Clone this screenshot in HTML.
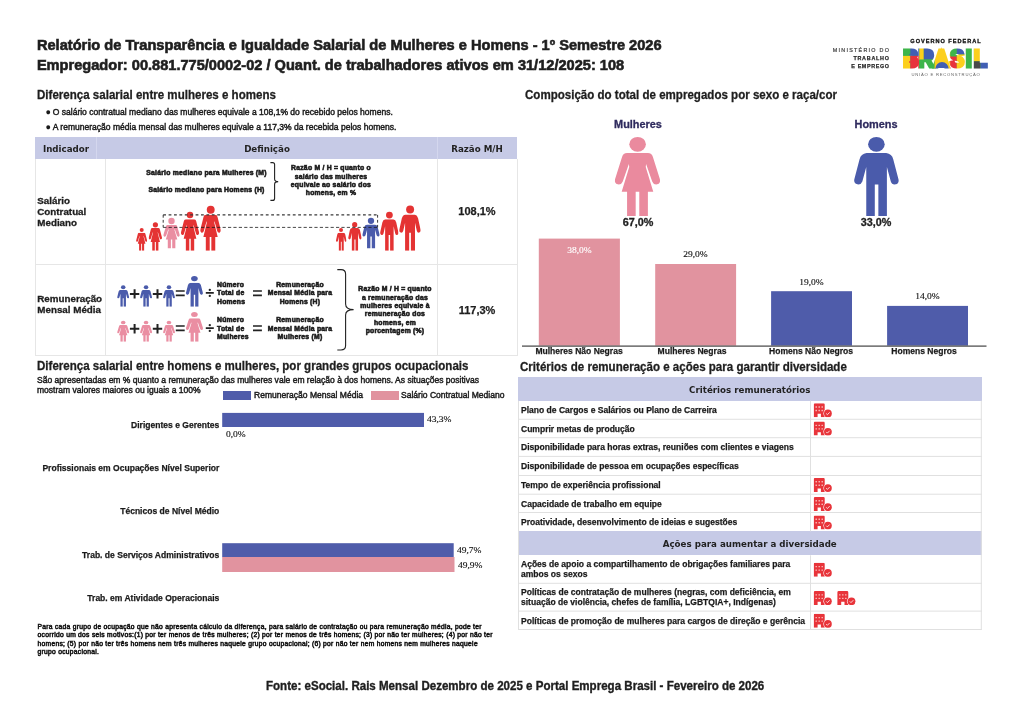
<!DOCTYPE html>
<html lang="pt-BR">
<head>
<meta charset="utf-8">
<title>Relatório de Transparência e Igualdade Salarial</title>
<style>
html,body{margin:0;padding:0;background:#fff;}
body{width:1024px;height:724px;position:relative;overflow:hidden;font-family:"Liberation Sans",sans-serif;color:#222;}
.a{position:absolute;white-space:nowrap;line-height:1;margin:0;padding:0;}
.b{font-weight:700;}
.s{-webkit-text-stroke:0.6px #222;}
.h{font-size:12.2px;font-weight:700;color:#1e1e1e;-webkit-text-stroke:0.28px #1e1e1e;transform:scaleX(0.948);transform-origin:0 0;}
.c{text-align:center;}
.box{position:absolute;}
.hdr{background:#c6cae6;}
.tiny{font-size:6.8px;font-weight:700;color:#1c1c1c;-webkit-text-stroke:0.58px #1c1c1c;letter-spacing:0.24px;line-height:8.4px;text-align:center;white-space:nowrap;position:absolute;}
.ln{position:absolute;background:#e6e6e6;}
.num{font-family:"Liberation Serif","DejaVu Serif",serif;font-size:8.2px;color:#111;-webkit-text-stroke:0.12px #111;transform:scaleX(1.16);transform-origin:0 0;}
svg{position:absolute;overflow:visible;}
.sm{font-size:9px;color:#1a1a1a;-webkit-text-stroke:0.45px #1a1a1a;transform:scaleX(0.948);transform-origin:0 0;}
.bu{font-size:9.5px;display:inline-block;width:7.7px;vertical-align:-0.2px;letter-spacing:0;margin-left:-0.6px;-webkit-text-stroke-width:0;}
.xl{font-size:9px;font-weight:700;color:#1a1a1a;-webkit-text-stroke:0.25px #1a1a1a;transform:scaleX(0.948);transform-origin:50% 0;}
.cat{left:20px;width:199.3px;text-align:right;font-size:9px;font-weight:700;color:#1a1a1a;-webkit-text-stroke:0.25px #1a1a1a;transform:scaleX(0.948);transform-origin:100% 0;}
.fn{font-size:6.7px;line-height:8.35px;color:#111;-webkit-text-stroke:0.5px #111;letter-spacing:0.28px;}
.lb{font-size:9.8px;line-height:11.1px;color:#1e1e1e;white-space:normal;width:70px;-webkit-text-stroke:0.3px #1e1e1e;transform:translateY(0.01px);}
.rt{font-size:9px;font-weight:700;color:#1a1a1a;-webkit-text-stroke:0.25px #1a1a1a;transform:scaleX(0.948);transform-origin:0 0;}
.lg{font-size:5.4px;text-align:right;}
.th{font-family:'DejaVu Sans','Liberation Sans',sans-serif;font-size:9.5px;color:#222;transform:scaleX(0.915);}
</style>
</head>
<body>
<svg width="0" height="0" style="position:absolute">
<defs>
<symbol id="w" viewBox="192 240 254 350" preserveAspectRatio="none">
<path d="M262,240 L378,240 Q400,240 406,262 L445,385 Q450,408 430,414 Q410,418 402,398 L368,300 L366,318 L408,455 L378,455 L378,590 L330,590 L330,455 L310,455 L310,590 L262,590 L262,455 L232,455 L274,318 L272,300 L238,398 Q230,418 210,414 Q190,408 195,385 L234,262 Q240,240 262,240 Z"/>
</symbol>
<symbol id="m" viewBox="298 240 254 350" preserveAspectRatio="none">
<path d="M370,240 L480,240 Q512,245 520,275 L549,385 Q554,408 534,414 Q512,418 506,398 L484,318 L484,590 L436,590 L436,415 L416,415 L416,590 L368,590 L368,318 L346,398 Q338,418 318,414 Q296,408 301,385 L330,275 Q338,245 370,240 Z"/>
</symbol>
<symbol id="bc" viewBox="0 0 19 14">
<path d="M0.3,1.3 Q0.3,0 1.6,0 H9.9 Q11.2,0 11.2,1.3 V14 H7.4 V10.6 H4.1 V14 H0.3 Z" fill="#e8343a"/>
<g fill="#ffe9e4" opacity="0.8"><rect x="2" y="3.1" width="1.4" height="1.4" rx="0.3"/><rect x="5" y="3.1" width="1.4" height="1.4" rx="0.3"/><rect x="8" y="3.1" width="1.4" height="1.4" rx="0.3"/><rect x="2" y="6.6" width="1.4" height="1.4" rx="0.3"/><rect x="5" y="6.6" width="1.4" height="1.4" rx="0.3"/><rect x="8" y="6.6" width="1.4" height="1.4" rx="0.3"/></g>
<circle cx="14.4" cy="10.2" r="4.5" fill="#fff"/>
<circle cx="14.4" cy="10.2" r="3.9" fill="#e8343a"/>
<path d="M12.7,10.3 L13.9,11.5 L16.2,9.1" fill="none" stroke="#fff" stroke-width="0.8"/>
</symbol>
<pattern id="bp" patternUnits="userSpaceOnUse" x="0" y="0" width="1024" height="724" patternTransform="translate(903 0) scale(1.1111 1) translate(-903 0)">
<rect x="895" y="40" width="100" height="35" fill="#3db54a"/>
<rect x="895" y="44" width="15.3" height="11.9" fill="#3db54a"/>
<rect x="895" y="55.9" width="15.3" height="16" fill="#fccf1d"/>
<rect x="910.3" y="44" width="9" height="11.9" fill="#415fb4"/>
<rect x="910.3" y="55.9" width="9" height="16" fill="#e8333c"/>
<rect x="919.3" y="44" width="4.5" height="16" fill="#fccf1d"/>
<rect x="923.8" y="44" width="11" height="15.5" fill="#415fb4"/>
<rect x="919.3" y="59.5" width="15.5" height="12" fill="#3db54a"/>
<rect x="934.6" y="44" width="16.4" height="30" fill="#fccf1d"/>
<circle cx="942" cy="68.6" r="6.6" fill="#415fb4"/>
<rect x="950.2" y="44" width="6.6" height="12.5" fill="#3db54a"/>
<rect x="956.8" y="44" width="9" height="10.5" fill="#415fb4"/>
<rect x="950.2" y="56.5" width="6.6" height="16" fill="#e8333c"/>
<rect x="956.8" y="54.5" width="9" height="18" fill="#fccf1d"/>
<rect x="965.5" y="44" width="8" height="30" fill="#3db54a"/>
<rect x="973.5" y="44" width="8" height="17.3" fill="#fccf1d"/>
<rect x="973.5" y="61.3" width="7" height="11" fill="#4a4a4a"/>
<rect x="980.5" y="61.3" width="15" height="11" fill="#415fb4"/>
</pattern>
</defs>
</svg>

<!-- HEADER -->
<div class="a b s" style="left:36.9px;top:37px;font-size:14.63px;color:#1e1e1e;transform:translateY(0.6px);">Relatório de Transparência e Igualdade Salarial de Mulheres e Homens - 1º Semestre 2026</div>
<div class="a b s" style="left:36.9px;top:57px;font-size:14.6px;color:#1e1e1e;transform:translateY(0.6px);">Empregador: 00.881.775/0002-02 / Quant. de trabalhadores ativos em 31/12/2025: 108</div>

<!--LOGO-->
<div class="a lg" style="left:780px;width:110.2px;top:48.1px;color:#444;letter-spacing:1.26px;-webkit-text-stroke:0.2px #444;">MINISTÉRIO DO</div>
<div class="a lg b" style="left:780px;width:109.7px;top:56.2px;color:#2a2a2a;letter-spacing:0.75px;-webkit-text-stroke:0.25px #2a2a2a;">TRABALHO</div>
<div class="a lg b" style="left:780px;width:109.7px;top:64px;color:#2a2a2a;letter-spacing:0.64px;-webkit-text-stroke:0.25px #2a2a2a;">E EMPREGO</div>
<div class="a lg b" style="left:905px;width:82px;top:38.9px;color:#111;letter-spacing:0.98px;text-align:center;font-size:5.6px;-webkit-text-stroke:0.3px #111;">GOVERNO FEDERAL</div>
<div class="a lg" style="left:905px;width:82px;top:73.1px;color:#666;letter-spacing:0.75px;text-align:center;font-size:4.2px;">UNIÃO E RECONSTRUÇÃO</div>
<svg style="left:0;top:0;" width="1024" height="724" viewBox="0 0 1024 724">
<rect x="906" y="50" width="9" height="5.9" fill="#415fb4"/><rect x="906" y="55.9" width="9" height="9.5" fill="#e8333c"/><rect x="922.5" y="50" width="8.5" height="8" fill="#415fb4"/><rect x="938.5" y="53" width="5.5" height="8" fill="#fccf1d"/><path d="M935.6,68.1 A6.4,6.4 0 0 1 948.4,68.1 Z" fill="#415fb4"/>
<g transform="translate(903 0) scale(0.9 1)"><g transform="translate(-903 0)">
<text x="903 920 936.8 954.9 972.6 981.7" y="66.9" font-family="Liberation Sans, sans-serif" font-weight="700" font-size="24.2" fill="url(#bp)" stroke="url(#bp)" stroke-width="3.2" stroke-linejoin="miter" style="paint-order:stroke;">BRASIL</text>
</g></g>
</svg>

<!--LEFT-TOP-->
<div class="a h" style="left:36.6px;top:89.3px;">Diferença salarial entre mulheres e homens</div>
<div class="a s sm" style="left:45.8px;top:107px;"><span class="bu">●</span>O salário contratual mediano das mulheres equivale a 108,1% do recebido pelos homens.</div>
<div class="a s sm" style="left:45.8px;top:122px;"><span class="bu">●</span>A remuneração média mensal das mulheres equivale a 117,3% da recebida pelos homens.</div>

<!-- table 1 -->
<div class="box hdr" style="left:35px;top:137px;width:482px;height:22px;"></div>
<div class="box" style="left:96px;top:137px;width:1px;height:22px;background:#d4d7ee;"></div>
<div class="box" style="left:437px;top:137px;width:1px;height:22px;background:#d4d7ee;"></div>
<div class="a b c" style="left:35px;width:62px;top:144.1px;font-family:'DejaVu Sans','Liberation Sans',sans-serif;font-size:9.5px;color:#222;transform:scaleX(0.915);">Indicador</div>
<div class="a b c" style="left:97px;width:340px;top:144.1px;font-family:'DejaVu Sans','Liberation Sans',sans-serif;font-size:9.5px;color:#222;transform:scaleX(0.915);">Definição</div>
<div class="a b c" style="left:437px;width:80px;top:144.1px;font-family:'DejaVu Sans','Liberation Sans',sans-serif;font-size:9.5px;color:#222;transform:scaleX(0.915);">Razão M/H</div>
<div class="ln" style="left:35px;top:159px;width:1px;height:197px;"></div>
<div class="ln" style="left:105px;top:159px;width:1px;height:197px;"></div>
<div class="ln" style="left:437px;top:159px;width:1px;height:197px;"></div>
<div class="ln" style="left:517px;top:159px;width:1px;height:197px;"></div>
<div class="ln" style="left:35px;top:264px;width:483px;height:1px;"></div>
<div class="ln" style="left:35px;top:355px;width:483px;height:1px;"></div>

<div class="a b lb" style="left:37.3px;top:194.5px;">Salário Contratual Mediano</div>
<div class="a b lb" style="left:37.3px;top:293.3px;">Remuneração Mensal Média</div>
<div class="a b c" style="left:437px;width:80px;top:206px;font-size:11px;color:#1e1e1e;-webkit-text-stroke:0.25px #1e1e1e;">108,1%</div>
<div class="a b c" style="left:437px;width:80px;top:305px;font-size:11px;color:#1e1e1e;-webkit-text-stroke:0.25px #1e1e1e;">117,3%</div>

<!-- row 1 illustration -->
<div class="tiny" style="left:140px;width:133px;top:169.4px;">Salário mediano para Mulheres (M)</div>
<div class="tiny" style="left:140px;width:133px;top:186.4px;">Salário mediano para Homens (H)</div>
<div class="tiny" style="left:281px;width:100px;top:163.6px;">Razão M / H = quanto o</div>
<div class="tiny" style="left:281px;width:100px;top:172.6px;">salário das mulheres</div>
<div class="tiny" style="left:281px;width:100px;top:181.0px;">equivale ao salário dos</div>
<div class="tiny" style="left:281px;width:100px;top:188.65px;">homens, em %</div>

<svg style="left:0;top:0;" width="1024" height="724" viewBox="0 0 1024 724">
<path d="M270.4,162.6 H272.6 Q274.6,162.6 274.6,164.6 V179 Q274.6,181.6 278.2,181.6 Q274.6,181.6 274.6,184.2 V198.4 Q274.6,200.4 272.6,200.4 H270.4" fill="none" stroke="#222" stroke-width="1.1"/>
<g fill="#e43333">
<circle cx="141.7" cy="230" r="2.0"/><use href="#w" x="136.05" y="232.7" width="11.05" height="18.10"/>
<circle cx="155.4" cy="224.8" r="2.6"/><use href="#w" x="148.55" y="228" width="13.45" height="22.80"/>
<circle cx="190" cy="215.1" r="3.25"/><use href="#w" x="180.8" y="219.3" width="18.30" height="31.50"/>
<circle cx="210.7" cy="209.8" r="3.95"/><use href="#w" x="200.1" y="214.8" width="20.70" height="36.00"/>
<circle cx="341" cy="229.9" r="2.0"/><use href="#m" x="335.9" y="232.7" width="10.70" height="18.10"/>
<circle cx="354.7" cy="224.7" r="2.6"/><use href="#m" x="348.1" y="228" width="13.60" height="22.80"/>
<circle cx="389.4" cy="215.1" r="3.4"/><use href="#m" x="380" y="219.3" width="18.60" height="31.50"/>
<circle cx="410.1" cy="209.5" r="4.0"/><use href="#m" x="399.1" y="214.6" width="21.70" height="36.20"/>
</g>
<circle cx="171.5" cy="221" r="3.2" fill="#ea8ea2"/><use href="#w" x="163.2" y="224.9" width="16.60" height="23.60" fill="#ea8ea2"/>
<circle cx="371" cy="220.8" r="3.15" fill="#4a5bab"/><use href="#m" x="362.2" y="224.4" width="17.60" height="24.10" fill="#4a5bab"/>
<path d="M163.2,214.9 H377.6" fill="none" stroke="#3a3a3a" stroke-width="1.4" stroke-dasharray="2.8 2.6"/>
<path d="M163.2,214.9 V227.4 M377.6,214.9 V227.4" fill="none" stroke="#222" stroke-width="0.9" stroke-dasharray="2.8 2.2"/>
<path d="M163.2,227.4 H377.6" fill="none" stroke="#1a1a1a" stroke-width="0.8" stroke-dasharray="3.2 2.2"/>
<!-- row 2 -->
<g fill="#4a5bab">
<ellipse cx="123.2" cy="287.2" rx="2.25" ry="1.95"/><use href="#m" x="117.1" y="289.9" width="12.10" height="16.95"/>
<ellipse cx="146.05" cy="287.2" rx="2.25" ry="1.95"/><use href="#m" x="140" y="289.9" width="12.10" height="16.95"/>
<ellipse cx="168.95" cy="287.2" rx="2.25" ry="1.95"/><use href="#m" x="163" y="289.9" width="12.00" height="16.95"/>
<ellipse cx="194.4" cy="278.6" rx="3.3" ry="2.65"/><use href="#m" x="185.8" y="282.7" width="17.25" height="24.15"/>
</g>
<g fill="#ea8ea2">
<ellipse cx="123.2" cy="322.5" rx="2.25" ry="1.85"/><use href="#w" x="117.1" y="325" width="12.10" height="16.70"/>
<ellipse cx="146.05" cy="322.5" rx="2.25" ry="1.85"/><use href="#w" x="140" y="325" width="12.10" height="16.70"/>
<ellipse cx="168.95" cy="322.5" rx="2.25" ry="1.85"/><use href="#w" x="163" y="325" width="12.00" height="16.70"/>
<ellipse cx="194.4" cy="314.4" rx="3.3" ry="2.5"/><use href="#w" x="185.8" y="318.3" width="17.25" height="23.40"/>
</g>
<g stroke="#222" fill="none">
<path d="M129.9,293.9h9.4M134.6,289.2v9.4 M152.8,293.9h9.4M157.5,289.2v9.4" stroke-width="2"/>
<path d="M129.9,328.8h9.4M134.6,324.1v9.4 M152.8,328.8h9.4M157.5,324.1v9.4" stroke-width="2"/>
<path d="M175.8,291h8.9M175.8,295.3h8.9 M175.8,326h8.9M175.8,330.3h8.9 M253,291h8.9M253,295.3h8.9 M253,326h8.9M253,330.3h8.9" stroke-width="1.7"/>
<path d="M205.8,292.9h8 M205.8,328.1h8" stroke-width="1.9"/>
<path d="M337.3,269.6 H341 Q345.6,269.6 345.6,274 V304 Q345.6,309.6 353.6,309.6 Q345.6,309.6 345.6,315 V345.6 Q345.6,350 341,350 H337.3" stroke-width="1.1"/>
</g>
<g fill="#222"><circle cx="209.8" cy="289.9" r="1.15"/><circle cx="209.8" cy="295.9" r="1.15"/><circle cx="209.8" cy="325.2" r="1.15"/><circle cx="209.8" cy="330.9" r="1.15"/></g>
</svg>
<div class="tiny" style="left:217px;top:280.5px;text-align:left;line-height:8.5px;">Número<br>Total de<br>Homens</div>
<div class="tiny" style="left:217px;top:316.3px;text-align:left;line-height:8.5px;">Número<br>Total de<br>Mulheres</div>
<div class="tiny" style="left:260px;width:80px;top:280.5px;line-height:8.5px;">Remuneração<br>Mensal Média para<br>Homens (H)</div>
<div class="tiny" style="left:260px;width:80px;top:316.3px;line-height:8.5px;">Remuneração<br>Mensal Média para<br>Mulheres (M)</div>
<div class="tiny" style="left:350px;width:90px;top:285.2px;">Razão M / H = quanto</div>
<div class="tiny" style="left:350px;width:90px;top:293.7px;">a remuneração das</div>
<div class="tiny" style="left:350px;width:90px;top:302.0px;">mulheres equivale à</div>
<div class="tiny" style="left:350px;width:90px;top:309.65px;">remuneração dos</div>
<div class="tiny" style="left:350px;width:90px;top:319.0px;">homens, em</div>
<div class="tiny" style="left:350px;width:90px;top:326.55px;">porcentagem (%)</div>


<!--RIGHT-TOP-->
<div class="a h" style="left:525.2px;top:89.3px;">Composição do total de empregados por sexo e raça/cor</div>
<div class="a b s c" style="left:598px;width:80px;top:118.8px;font-size:10.9px;color:#2f2b5e;-webkit-text-stroke:0.3px #2f2b5e;">Mulheres</div>
<div class="a b s c" style="left:836px;width:80px;top:118.8px;font-size:10.9px;color:#2f2b5e;-webkit-text-stroke:0.3px #2f2b5e;">Homens</div>
<svg style="left:0;top:0;" width="1024" height="724" viewBox="0 0 1024 724">
<ellipse cx="637.6" cy="144.3" rx="8.3" ry="7.4" fill="#ea8a9e"/><use href="#w" x="614.5" y="153.1" width="45.6" height="62.9" fill="#ea8a9e"/>
<ellipse cx="876.4" cy="144.3" rx="8.3" ry="7.4" fill="#4a5bab"/><use href="#m" x="853.8" y="153.1" width="45.2" height="62.9" fill="#4a5bab"/>
<rect x="538.8" y="238.6" width="81.1" height="107" fill="#e1939f"/>
<rect x="655.2" y="264" width="80.9" height="81.6" fill="#e1939f"/>
<rect x="771.1" y="291.2" width="80.9" height="54.4" fill="#4f5caa"/>
<rect x="887.1" y="305.9" width="80.9" height="39.7" fill="#4f5caa"/>
<rect x="522" y="345.5" width="464.5" height="1.2" fill="#444"/>
</svg>
<div class="a b s c" style="left:598px;width:80px;top:217.2px;font-size:10.8px;color:#1e1e1e;-webkit-text-stroke-width:0.3px;">67,0%</div>
<div class="a b s c" style="left:836px;width:80px;top:217.2px;font-size:10.8px;color:#1e1e1e;-webkit-text-stroke-width:0.3px;">33,0%</div>
<div class="a num c" style="left:539px;width:81px;top:247.1px;color:#fff;-webkit-text-stroke-color:#fff;transform-origin:50% 0;">38,0%</div>
<div class="a num c" style="left:654.8px;width:81px;top:250.95px;transform-origin:50% 0;">29,0%</div>
<div class="a num c" style="left:771.2px;width:81px;top:279.2px;transform-origin:50% 0;">19,0%</div>
<div class="a num c" style="left:887px;width:81px;top:293.2px;transform-origin:50% 0;">14,0%</div>
<div class="a c xl" style="left:529.2px;width:100px;top:346.5px;">Mulheres Não Negras</div>
<div class="a c xl" style="left:642px;width:100px;top:346.5px;">Mulheres Negras</div>
<div class="a c xl" style="left:761.4px;width:100px;top:346.5px;">Homens Não Negros</div>
<div class="a c xl" style="left:873.8px;width:100px;top:346.5px;">Homens Negros</div>

<!--LEFT-BOTTOM-->
<div class="a h" style="left:36.6px;top:360.3px;">Diferença salarial entre homens e mulheres, por grandes grupos ocupacionais</div>
<div class="a s sm" style="left:37px;top:375.5px;">São apresentadas em % quanto a remuneração das mulheres vale em relação à dos homens. As situações positivas</div>
<div class="a s sm" style="left:37px;top:385.5px;">mostram valores maiores ou iguais a 100%</div>
<div class="box" style="left:223px;top:391px;width:28px;height:9px;background:#4f5caa;"></div>
<div class="a s sm" style="left:253.5px;top:391px;">Remuneração Mensal Média</div>
<div class="box" style="left:371px;top:391px;width:28px;height:9px;background:#e1939f;"></div>
<div class="a s sm" style="left:401px;top:391px;">Salário Contratual Mediano</div>

<svg style="left:0;top:0;" width="1024" height="724" viewBox="0 0 1024 724">
<rect x="222.2" y="412.9" width="201.8" height="14.1" fill="#4f5caa"/>
<rect x="222.2" y="543.2" width="231.5" height="14" fill="#4f5caa"/>
<rect x="222.2" y="557" width="232.3" height="15" fill="#e1939f"/>
</svg>
<div class="a num" style="left:427px;top:416.25px;">43,3%</div>
<div class="a num" style="left:225.5px;top:430.75px;">0,0%</div>
<div class="a num" style="left:457px;top:547.25px;">49,7%</div>
<div class="a num" style="left:458px;top:561.95px;">49,9%</div>
<div class="a cat" style="top:420.8px;">Dirigentes e Gerentes</div>
<div class="a cat" style="top:463.8px;">Profissionais em Ocupações Nível Superior</div>
<div class="a cat" style="top:507.3px;">Técnicos de Nível Médio</div>
<div class="a cat" style="top:551.3px;">Trab. de Serviços Administrativos</div>
<div class="a cat" style="top:594.3px;">Trab. em Atividade Operacionais</div>
<div class="a fn" style="left:37.6px;top:622.6px;">Para cada grupo de ocupação que não apresenta cálculo da diferença, para salário de contratação ou para remuneração média, pode ter</div>
<div class="a fn" style="left:37.6px;top:630.8px;">ocorrido um dos seis motivos:(1) por ter menos de três mulheres; (2) por ter menos de três homens; (3) por não ter mulheres; (4) por não ter</div>
<div class="a fn" style="left:37.6px;top:639.8px;">homens; (5) por não ter três homens nem três mulheres naquele grupo ocupacional; (6) por não ter nem homens nem mulheres naquele</div>
<div class="a fn" style="left:37.6px;top:647.7px;">grupo ocupacional.</div>


<!--RIGHT-BOTTOM-->
<div class="a h" style="left:520.4px;top:360.5px;">Critérios de remuneração e ações para garantir diversidade</div>
<div class="box hdr" style="left:518px;top:377.3px;width:463.5px;height:23.4px;"></div>
<div class="a b c th" style="left:518px;width:463.5px;top:385px;">Critérios remuneratórios</div>
<div class="box hdr" style="left:518px;top:531.4px;width:463.5px;height:23.9px;"></div>
<div class="a b c th" style="left:518px;width:463.5px;top:539.4px;">Ações para aumentar a diversidade</div>
<svg style="left:0;top:0;" width="1024" height="724" viewBox="0 0 1024 724">
<g fill="none" stroke="#e0e0e0" stroke-width="1">
<path d="M518.5,400.7 V629.8 M810.5,400.7 V531.4 M810.5,555.3 V629.8 M981.3,400.7 V629.8"/>
<path d="M518,419.25 H981.8"/>
<path d="M518,437.7 H981.8"/>
<path d="M518,456.4 H981.8"/>
<path d="M518,475.5 H981.8"/>
<path d="M518,494.2 H981.8"/>
<path d="M518,512.5 H981.8"/>
<path d="M518,583.3 H981.8"/>
<path d="M518,611.1 H981.8"/>
<path d="M518,629.5 H981.8"/>
</g>
<use href="#bc" x="813.5" y="403.2" width="19" height="14"/>
<use href="#bc" x="813.5" y="421.6" width="19" height="14"/>
<use href="#bc" x="813.5" y="477.9" width="19" height="14"/>
<use href="#bc" x="813.5" y="497.0" width="19" height="14"/>
<use href="#bc" x="813.5" y="515.4" width="19" height="14"/>
<use href="#bc" x="813.5" y="562.8" width="19" height="14"/>
<use href="#bc" x="813.5" y="591.1" width="19" height="14"/>
<use href="#bc" x="837.1" y="591.1" width="19" height="14"/>
<use href="#bc" x="813.5" y="613.8" width="19" height="14"/>
</svg>
<div class="a rt" style="left:521px;top:405.90px;">Plano de Cargos e Salários ou Plano de Carreira</div>
<div class="a rt" style="left:521px;top:425.00px;">Cumprir metas de produção</div>
<div class="a rt" style="left:521px;top:442.95px;">Disponibilidade para horas extras, reuniões com clientes e viagens</div>
<div class="a rt" style="left:521px;top:462.20px;">Disponibilidade de pessoa em ocupações específicas</div>
<div class="a rt" style="left:521px;top:481.00px;">Tempo de experiência profissional</div>
<div class="a rt" style="left:521px;top:500.10px;">Capacidade de trabalho em equipe</div>
<div class="a rt" style="left:521px;top:517.80px;">Proatividade, desenvolvimento de ideias e sugestões</div>
<div class="a rt" style="left:521px;top:560.4px;line-height:9.9px;">Ações de apoio a compartilhamento de obrigações familiares para<br>ambos os sexos</div>
<div class="a rt" style="left:521px;top:588.4px;line-height:9.9px;">Políticas de contratação de mulheres (negras, com deficiência, em<br>situação de violência, chefes de família, LGBTQIA+, Indígenas)</div>
<div class="a rt" style="left:521px;top:616.9px;">Políticas de promoção de mulheres para cargos de direção e gerência</div>
<!--FOOTER-->
<div class="a" style="left:265.8px;top:679.5px;font-size:12.2px;font-weight:700;color:#1e1e1e;-webkit-text-stroke:0.35px #1e1e1e;transform:scaleX(0.948);transform-origin:0 0;">Fonte: eSocial. Rais Mensal Dezembro de 2025 e Portal Emprega Brasil - Fevereiro de 2026</div>

</body>
</html>
